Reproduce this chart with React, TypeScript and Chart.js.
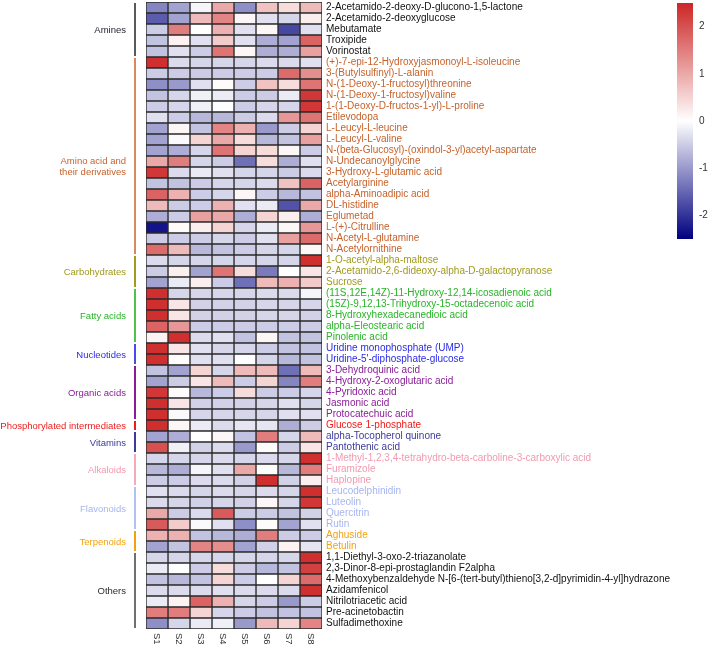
import React, { useEffect, useRef } from "react";
import { Chart, registerables } from "chart.js";

Chart.register(...registerables);

const FONT = "'Liberation Sans', Arial, sans-serif";

const samples = ["S1", "S2", "S3", "S4", "S5", "S6", "S7", "S8"];

const metabolites = [
  "2-Acetamido-2-deoxy-D-glucono-1,5-lactone",
  "2-Acetamido-2-deoxyglucose",
  "Mebutamate",
  "Troxipide",
  "Vorinostat",
  "(+)-7-epi-12-Hydroxyjasmonoyl-L-isoleucine",
  "3-(Butylsulfinyl)-L-alanin",
  "N-(1-Deoxy-1-fructosyl)threonine",
  "N-(1-Deoxy-1-fructosyl)valine",
  "1-(1-Deoxy-D-fructos-1-yl)-L-proline",
  "Etilevodopa",
  "L-Leucyl-L-leucine",
  "L-Leucyl-L-valine",
  "N-(beta-Glucosyl)-(oxindol-3-yl)acetyl-aspartate",
  "N-Undecanoylglycine",
  "3-Hydroxy-L-glutamic acid",
  "Acetylarginine",
  "alpha-Aminoadipic acid",
  "DL-histidine",
  "Eglumetad",
  "L-(+)-Citrulline",
  "N-Acetyl-L-glutamine",
  "N-Acetylornithine",
  "1-O-acetyl-alpha-maltose",
  "2-Acetamido-2,6-dideoxy-alpha-D-galactopyranose",
  "Sucrose",
  "(11S,12E,14Z)-11-Hydroxy-12,14-icosadienoic acid",
  "(15Z)-9,12,13-Trihydroxy-15-octadecenoic acid",
  "8-Hydroxyhexadecanedioic acid",
  "alpha-Eleostearic acid",
  "Pinolenic acid",
  "Uridine monophosphate (UMP)",
  "Uridine-5'-diphosphate-glucose",
  "3-Dehydroquinic acid",
  "4-Hydroxy-2-oxoglutaric acid",
  "4-Pyridoxic acid",
  "Jasmonic acid",
  "Protocatechuic acid",
  "Glucose 1-phosphate",
  "alpha-Tocopherol quinone",
  "Pantothenic acid",
  "1-Methyl-1,2,3,4-tetrahydro-beta-carboline-3-carboxylic acid",
  "Furamizole",
  "Haplopine",
  "Leucodelphinidin",
  "Luteolin",
  "Quercitrin",
  "Rutin",
  "Aghuside",
  "Betulin",
  "1,1-Diethyl-3-oxo-2-triazanolate",
  "2,3-Dinor-8-epi-prostaglandin F2alpha",
  "4-Methoxybenzaldehyde N-[6-(tert-butyl)thieno[3,2-d]pyrimidin-4-yl]hydrazone",
  "Azidamfenicol",
  "Nitrilotriacetic acid",
  "Pre-acinetobactin",
  "Sulfadimethoxine",
];

const groupNames = [
  "Amines",
  "Amino acid and\ntheir derivatives",
  "Carbohydrates",
  "Fatty acids",
  "Nucleotides",
  "Organic acids",
  "Phosphorylated intermediates",
  "Vitamins",
  "Alkaloids",
  "Flavonoids",
  "Terpenoids",
  "Others",
];
const groupCounts = [5, 18, 3, 5, 2, 5, 1, 2, 3, 4, 2, 7];

// per-sample scaled abundance (rows follow `metabolites`)
const s1 = [
  -1.2, -1.6, -0.5, -0.6, -0.6, 2.4, -0.5, -1.1, -0.6, -0.5,
  -0.3, -0.9, -0.9, -0.9, 1.0, 2.3, -0.6, 1.8, 0.8, -0.8,
  -2.3, -0.5, 1.7, -0.35, -0.5, -0.9, 2.4, 2.4, 2.4, 1.8,
  0.15, 2.4, 2.4, -0.6, -0.9, 2.3, 2.4, 2.4, 2.4, -0.9,
  2.0, -0.4, -0.7, -0.5, -0.3, -0.35, 1.0, 1.9, 0.9, -0.9,
  -0.4, -0.2, -0.6, -0.35, -0.2, 1.5, -1.1,
];
const s2 = [
  -0.9, -0.9, 1.5, 0.15, -0.3, -0.35, -0.5, -1.0, -0.4, -0.4,
  -0.5, 0.1, -0.05, -0.8, 1.5, -0.35, -0.6, 0.9, -0.5, -0.5,
  0.05, -0.5, 0.8, -0.4, 0.2, -0.2, -0.4, 0.3, 0.3, 1.2,
  2.4, 0.3, 0.02, -0.9, -0.5, 0.05, 0.3, -0.05, 0.1, -0.8,
  -0.15, -0.4, -0.8, -0.5, -0.35, -0.4, -0.5, 0.6, 0.9, -0.6,
  -0.4, 0, -0.7, -0.35, 0.15, 1.5, -0.4,
];
const s3 = [
  -0.1, 0.8, 0, -0.3, -0.5, -0.4, -0.5, -0.3, -0.15, -0.15,
  -0.7, -0.6, 0.5, -0.4, -0.4, -0.2, -0.5, -0.5, -0.5, 1.1,
  0.2, -0.5, -0.7, -0.4, -0.9, 0.2, -0.4, -0.45, -0.45, -0.5,
  -0.35, -0.3, -0.3, 0.5, 0.3, -0.7, -0.45, -0.4, -0.2, 0,
  -0.45, -0.4, -0.1, -0.35, -0.4, -0.45, -0.35, -0.05, -0.6, 1.4,
  -0.4, -0.5, -0.6, -0.35, 1.8, 0.5, -0.2,
];
const s4 = [
  1.0, 1.4, 0.9, 0.6, 1.6, -0.4, -0.5, 0.05, -0.2, 0,
  -0.7, 1.4, 1.0, 1.6, -0.5, -0.3, -0.4, -0.4, 0.9, 1.0,
  0.5, -0.4, -0.6, -0.4, 1.6, -0.5, -0.4, -0.45, -0.45, -0.5,
  -0.3, -0.4, -0.3, -0.4, 0.8, -0.5, -0.45, -0.4, -0.35, 0.1,
  -0.35, -0.35, -0.3, -0.35, -0.35, -0.4, 1.9, -0.3, -0.7, 1.3,
  -0.4, 0.4, 0.5, -0.3, 0.9, -0.4, -0.15,
];
const s5 = [
  -1.1, 0.1, -0.3, -0.3, 0.1, -0.4, -0.5, -0.5, -0.5, -0.5,
  -0.5, 0.9, 0.4, 0.5, -1.4, -0.4, -0.4, 0.1, -0.3, -0.8,
  -0.4, -0.5, -0.5, -0.4, 0.4, -1.4, -0.4, -0.45, -0.45, -0.5,
  -0.6, -0.4, 0, 0.8, -0.5, 0.4, -0.45, -0.4, -0.25, -0.6,
  -1.0, -0.4, 1.0, -0.45, -0.4, -0.45, -0.5, -1.1, -0.8, -0.9,
  -0.4, -0.5, -0.5, -0.35, -0.4, -0.5, -1.0,
];
const s6 = [
  0.7, -0.3, 0.1, -0.8, -0.8, -0.35, -0.5, 0.7, -0.5, -0.4,
  -0.35, -1.0, -0.7, 0.4, 0.4, -0.4, -0.35, -0.5, -0.2, 0.5,
  -0.2, -0.3, -0.4, -0.4, -1.3, 0.8, -0.35, -0.4, -0.4, -0.5,
  0.1, -0.5, -0.4, 0.8, 0.5, -0.5, -0.4, -0.4, -0.25, 1.5,
  0.05, -0.35, 0.05, 2.4, -0.35, 0.1, -0.5, 0.05, 1.5, -0.45,
  -0.4, -0.7, 0, -0.35, -0.5, -0.6, 0.8,
];
const s7 = [
  0.4, -0.4, -1.8, -0.9, -0.8, -0.35, 1.7, 0.4, -0.2, -0.4,
  1.2, -0.5, -0.6, 0.1, -0.8, -0.5, 0.7, -0.7, -1.7, 0.2,
  0.1, 1.1, -0.4, -0.4, 0, 0.9, -0.35, -0.4, -0.4, -0.5,
  -0.6, -0.6, -0.7, -1.4, -1.2, -0.5, -0.3, -0.3, -0.8, -0.4,
  -0.5, -0.4, -0.7, -0.45, -0.4, -0.4, -0.6, -0.9, -0.5, 0.15,
  -0.4, -0.6, 0.5, -0.35, -1.0, -0.6, 0.5,
];
const s8 = [
  0.8, 0.2, -0.3, 1.8, 1.1, -0.3, 1.3, 1.6, 2.3, 2.3,
  1.6, 0.5, 1.1, -0.5, -0.3, -0.35, 1.8, -0.6, 1.0, -0.8,
  1.2, 1.7, 0.1, 2.4, 0.3, 0.6, -0.1, -0.4, -0.45, -0.5,
  -0.6, -0.6, -0.6, 0.8, 1.5, -0.4, -0.4, -0.3, -0.5, 0.8,
  0.3, 2.4, 1.5, 0.2, 2.4, 2.3, -0.45, -0.3, -0.5, -0.25,
  2.4, 2.2, 1.7, 2.4, -0.5, -0.6, 1.4,
];

const colorMin = -2.5;
const colorMax = 2.5;
const colorbarTicks = [-2, -1, 0, 1, 2];

// styles
const groupTextColors = [
  "#1e1e2a", "#c6622c", "#a19a1c", "#28b428", "#2b2be6", "#8a1c99",
  "#f01b1b", "#3b3b9c", "#f19ab0", "#a7b5f0", "#f3a20f", "#2b2b2b",
];
const groupLineColors = [
  "#5a5a5a", "#d88a5e", "#a19a1c", "#4cc44c", "#4a4ae6", "#8a1c99",
  "#f01b1b", "#3b3b9c", "#f3aabd", "#b3c0f3", "#f3a20f", "#707070",
];
const rowTextColors = [
  "#111111", "#c6622c", "#a19a1c", "#28b428", "#2b2be6", "#8a1c99",
  "#f01b1b", "#3b3b9c", "#f19ab0", "#a7b5f0", "#f3a20f", "#111111",
];

const NAVY = [0, 0, 128];
const RED = [205, 38, 38];
function heatColor(v: number): string {
  const t = Math.max(-1, Math.min(1, v / (v < 0 ? -colorMin : colorMax)));
  const c = t < 0 ? NAVY : RED;
  const f = Math.abs(t);
  const ch = (i: number) => Math.round(255 + (c[i] - 255) * f);
  return `rgb(${ch(0)},${ch(1)},${ch(2)})`;
}

const rowGroup: number[] = [];
groupCounts.forEach((n, g) => {
  for (let i = 0; i < n; i++) rowGroup.push(g);
});

const annotPlugin = {
  id: "annot",
  afterDraw(chart: any) {
    const { ctx, chartArea } = chart;
    const x = chart.scales.x;
    const y = chart.scales.y;
    const rowH = Math.abs(y.getPixelForValue(1) - y.getPixelForValue(0));
    ctx.save();
    let start = 0;
    groupNames.forEach((name, g) => {
      const n = groupCounts[g];
      const top = y.getPixelForValue(start) - rowH / 2;
      const bottom = y.getPixelForValue(start + n - 1) + rowH / 2;
      ctx.fillStyle = groupLineColors[g];
      ctx.fillRect(134, top + 1, 2, bottom - top - 2);
      const lines = name.split("\n");
      const lh = 11;
      const mid = (top + bottom) / 2 + (lines.length > 1 ? 11 : 1);
      ctx.fillStyle = groupTextColors[g];
      ctx.font = `9.5px ${FONT}`;
      ctx.textAlign = "right";
      ctx.textBaseline = "middle";
      lines.forEach((ln, i) => {
        ctx.fillText(ln, 126, mid + (i - (lines.length - 1) / 2) * lh);
      });
      start += n;
    });
    ctx.fillStyle = "#333333";
    ctx.font = `9.5px ${FONT}`;
    ctx.textAlign = "left";
    ctx.textBaseline = "middle";
    samples.forEach((s, k) => {
      const px = x.getPixelForValue(k + 0.5);
      ctx.save();
      ctx.translate(px, chartArea.bottom + 4);
      ctx.rotate(Math.PI / 2);
      ctx.fillText(s, 0, 0);
      ctx.restore();
    });
    ctx.restore();
  },
};

const gradientPlugin = {
  id: "gradbar",
  beforeDatasetsDraw(chart: any) {
    const { ctx, chartArea } = chart;
    const y = chart.scales.y;
    const top = y.getPixelForValue(colorMax);
    const bottom = y.getPixelForValue(colorMin);
    const grad = ctx.createLinearGradient(0, top, 0, bottom);
    grad.addColorStop(0, heatColor(colorMax));
    grad.addColorStop((colorMax - 0) / (colorMax - colorMin), heatColor(0));
    grad.addColorStop(1, heatColor(colorMin));
    ctx.save();
    ctx.fillStyle = grad;
    ctx.fillRect(chartArea.left, top, chartArea.right - chartArea.left, bottom - top);
    ctx.restore();
  },
};

export default function App() {
  const mainRef = useRef<HTMLCanvasElement>(null);
  const barRef = useRef<HTMLCanvasElement>(null);

  useEffect(() => {
    document.body.style.margin = "0";
    const columns = [s1, s2, s3, s4, s5, s6, s7, s8];
    const main = new Chart(mainRef.current as HTMLCanvasElement, {
      type: "bar",
      data: {
        labels: metabolites,
        datasets: columns.map((col, k) => ({
          label: samples[k],
          data: metabolites.map(() => [k, k + 1]) as any,
          backgroundColor: col.map(heatColor),
          borderColor: "#2a2a2a",
          borderWidth: 1,
          borderSkipped: false,
          grouped: false,
          barPercentage: 1,
          categoryPercentage: 1,
        })) as any,
      },
      options: {
        indexAxis: "y",
        animation: false,
        responsive: false,
        events: [],
        plugins: { legend: { display: false }, tooltip: { enabled: false } },
        layout: { padding: { left: 146, top: 2, right: 0, bottom: 18 } },
        scales: {
          x: { type: "linear", min: 0, max: 8, display: false },
          y: {
            type: "category",
            position: "right",
            offset: true,
            grid: { display: false, drawTicks: false },
            border: { display: false },
            ticks: {
              autoSkip: false,
              padding: 4,
              font: { size: 10, family: FONT },
              color: (c: any) => rowTextColors[rowGroup[c.index]],
            },
            afterFit: (s: any) => {
              s.width = 389;
              s.paddingTop = 0;
              s.paddingBottom = 0;
            },
          },
        },
      } as any,
      plugins: [annotPlugin],
    });

    const bar = new Chart(barRef.current as HTMLCanvasElement, {
      type: "bar",
      data: { labels: [""], datasets: [] },
      options: {
        animation: false,
        responsive: false,
        events: [],
        plugins: { legend: { display: false }, tooltip: { enabled: false } },
        layout: { padding: { left: 0, top: 3, right: 0, bottom: 6 } },
        scales: {
          x: { display: false },
          y: {
            type: "linear",
            position: "right",
            min: colorMin,
            max: colorMax,
            grid: { display: false, drawTicks: false },
            border: { display: false },
            afterBuildTicks: (s: any) => {
              s.ticks = colorbarTicks.map((v) => ({ value: v }));
            },
            ticks: {
              padding: 6,
              font: { size: 10, family: FONT },
              color: "#333333",
            },
            afterFit: (s: any) => {
              s.width = 18;
              s.paddingTop = 0;
              s.paddingBottom = 0;
            },
          },
        },
      } as any,
      plugins: [gradientPlugin],
    });

    return () => {
      main.destroy();
      bar.destroy();
    };
  }, []);

  return (
    <div style={{ position: "relative", width: 711, height: 647, background: "#fff", overflow: "hidden" }}>
      <canvas
        ref={mainRef}
        width={711}
        height={647}
        style={{ position: "absolute", left: 0, top: 0, width: 711, height: 647 }}
      />
      <canvas
        ref={barRef}
        width={34}
        height={245}
        style={{ position: "absolute", left: 677, top: 0, width: 34, height: 245 }}
      />
    </div>
  );
}
